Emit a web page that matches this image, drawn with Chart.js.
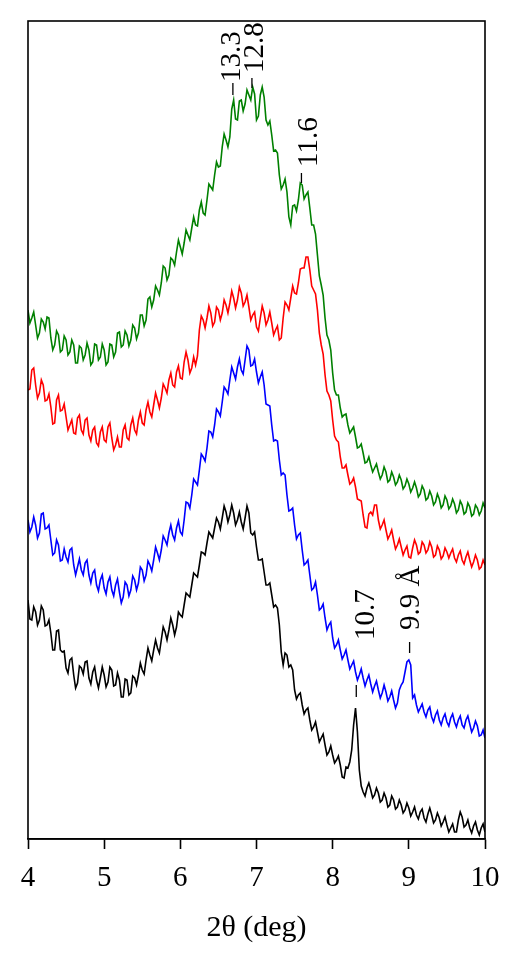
<!DOCTYPE html>
<html>
<head>
<meta charset="utf-8">
<script src="https://cdn.jsdelivr.net/npm/chart.js@4/dist/chart.umd.min.js"></script>
<style>
  html, body { margin: 0; padding: 0; background: #fff; }
  #xrd { display: block; }
</style>
</head>
<body>
<canvas id="xrd" width="527" height="969"></canvas>
<script>
// 2theta (deg), every 0.05 deg
const twoTheta = [
  4.00,4.05,4.10,4.15,4.20,4.25,4.30,4.35,4.40,4.45,
  4.50,4.55,4.60,4.65,4.70,4.75,4.80,4.85,4.90,4.95,
  5.00,5.05,5.10,5.15,5.20,5.25,5.30,5.35,5.40,5.45,
  5.50,5.55,5.60,5.65,5.70,5.75,5.80,5.85,5.90,5.95,
  6.00,6.05,6.10,6.15,6.20,6.25,6.30,6.35,6.40,6.45,
  6.50,6.55,6.60,6.65,6.70,6.75,6.80,6.85,6.90,6.95,
  7.00,7.05,7.10,7.15,7.20,7.25,7.30,7.35,7.40,7.45,
  7.50,7.55,7.60,7.65,7.70,7.75,7.80,7.85,7.90,7.95,
  8.00,8.05,8.10,8.15,8.20,8.25,8.30,8.35,8.40,8.45,
  8.50,8.55,8.60,8.65,8.70,8.75,8.80,8.85,8.90,8.95,
  9.00,9.05,9.10,9.15,9.20,9.25,9.30,9.35,9.40,9.45,
  9.50,9.55,9.60,9.65,9.70,9.75,9.80,9.85,9.90,9.95,
  10.00
];

// in-between readings (the noise between the 0.05 deg points)
const twoThetaMid = [
  4.025,4.075,4.125,4.175,4.225,4.275,4.325,4.375,4.425,4.475,
  4.525,4.575,4.625,4.675,4.725,4.775,4.825,4.875,4.925,4.975,
  5.025,5.075,5.125,5.175,5.225,5.275,5.325,5.375,5.425,5.475,
  5.525,5.575,5.625,5.675,5.725,5.775,5.825,5.875,5.925,5.975,
  6.025,6.075,6.125,6.175,6.225,6.275,6.325,6.375,6.425,6.475,
  6.525,6.575,6.625,6.675,6.725,6.775,6.825,6.875,6.925,6.975,
  7.025,7.075,7.125,7.175,7.225,7.275,7.325,7.375,7.425,7.475,
  7.525,7.575,7.625,7.675,7.725,7.775,7.825,7.875,7.925,7.975,
  8.025,8.075,8.125,8.175,8.225,8.275,8.325,8.375,8.425,8.475,
  8.525,8.575,8.625,8.675,8.725,8.775,8.825,8.875,8.925,8.975,
  9.025,9.075,9.125,9.175,9.225,9.275,9.325,9.375,9.425,9.475,
  9.525,9.575,9.625,9.675,9.725,9.775,9.825,9.875,9.925,9.975
];

// intensities (arbitrary units, curves already offset as in the figure)
const greenCounts = [
  690,682,675,667,678,683,662,655,665,650,
  660,648,655,637,652,645,650,638,655,643,
  650,638,655,648,668,655,665,660,672,667,
  685,680,703,700,710,717,732,725,740,748,
  753,757,765,772,775,790,787,800,813,825,
  833,853,860,863,900,880,900,896,905,913,
  880,905,903,875,865,850,825,815,808,775,
  795,800,815,805,792,775,745,715,682,660,
  627,605,592,585,575,570,563,553,547,538,
  535,532,528,525,528,520,523,518,520,514,
  516,512,512,506,510,502,504,498,501,495,
  500,494,496,490,495,488,493,486,492,489,
  492
];
const greenMid = [
  677,688,662,681,671,682,650,669,648,664,
  645,660,637,654,640,657,635,656,640,656,
  635,656,643,667,653,669,654,675,661,685,
  674,701,693,714,705,734,720,742,735,760,
  746,770,760,783,774,798,785,816,810,838,
  834,866,853,891,881,899,889,910,900,906,
  884,913,880,879,849,847,811,821,783,794,
  789,817,801,808,775,766,724,705,665,650,
  610,605,583,586,567,573,552,556,537,543,
  528,536,521,533,518,528,515,525,511,521,
  508,518,503,514,500,509,495,506,492,504,
  491,501,487,499,486,497,484,495,485,497
];

const redCounts = [
  610,630,615,607,615,600,593,577,605,590,
  583,575,567,582,570,580,565,570,557,568,
  560,573,562,555,553,570,562,575,570,580,
  577,590,588,595,600,602,612,620,615,628,
  622,638,640,632,635,670,680,682,687,678,
  690,687,695,697,702,700,707,698,693,685,
  673,682,687,680,677,670,660,682,695,702,
  707,717,732,743,730,710,690,655,625,605,
  580,560,543,532,525,518,513,500,485,472,
  488,495,480,475,470,465,460,455,453,450,
  443,452,455,448,455,450,453,445,450,444,
  448,447,442,445,440,443,440,438,440,433,
  435
];
const redMid = [
  611,632,602,620,599,606,576,600,589,596,
  570,580,566,585,566,582,559,573,554,573,
  558,577,550,563,553,575,560,582,566,588,
  575,598,583,607,592,616,607,627,613,634,
  621,648,627,643,644,684,672,694,674,693,
  680,700,687,709,692,713,694,705,680,688,
  669,694,675,688,665,674,662,698,690,714,
  706,731,732,743,714,706,667,646,609,599,
  564,558,532,535,516,522,501,499,473,486,
  485,495,471,480,461,470,451,461,445,454,
  442,460,446,458,447,458,443,454,441,452,
  442,451,438,449,436,448,433,445,431,440
];

const blueCounts = [
  480,473,475,467,487,472,460,447,455,440,
  443,450,435,433,430,437,425,427,415,420,
  412,418,410,415,408,403,415,410,420,417,
  430,425,435,440,447,450,460,467,465,472,
  468,480,497,505,518,530,543,552,568,575,
  588,598,610,620,627,633,630,640,650,635,
  628,623,615,595,575,560,540,527,505,490,
  475,465,450,437,425,412,405,392,382,375,
  362,355,350,345,340,335,328,325,322,320,
  316,314,310,307,308,303,300,297,315,328,
  340,302,295,292,288,290,283,285,280,282,
  278,282,278,280,275,280,276,272,274,265,
  262
];
const blueMid = [
  468,483,462,486,471,475,445,460,439,451,
  438,452,425,441,425,440,417,430,409,425,
  406,423,404,421,397,418,404,424,410,433,
  419,439,429,453,440,464,455,475,460,479,
  465,498,492,521,515,546,539,569,563,591,
  584,613,606,633,621,641,626,654,634,641,
  617,628,596,594,559,559,525,525,489,492,
  461,467,435,440,410,418,390,396,370,378,
  352,360,341,350,331,339,320,331,314,325,
  308,319,302,315,299,309,292,310,318,338,
  335,305,288,296,283,293,278,289,275,286,
  274,286,273,284,272,284,268,279,264,270
];

const blackCounts = [
  400,380,388,380,390,375,367,350,370,348,
  332,340,325,317,332,338,322,328,320,322,
  325,318,330,315,320,303,320,307,322,325,
  330,340,345,350,352,360,368,370,375,373,
  385,395,405,415,425,435,447,457,465,472,
  478,482,488,485,487,480,478,482,487,465,
  453,440,428,415,405,395,375,335,345,335,
  310,305,295,290,280,273,268,262,255,248,
  245,240,235,222,232,250,292,230,208,212,
  210,205,207,200,202,195,200,193,195,190,
  192,188,185,188,182,186,185,180,182,178,
  175,172,168,180,183,175,172,174,170,172,
  168
];
const blackMid = [
  381,393,375,394,374,380,350,369,350,349,
  327,342,312,334,326,339,316,333,312,333,
  313,333,314,327,303,321,305,324,315,337,
  326,352,339,360,347,373,360,382,365,388,
  383,407,403,427,423,448,445,468,462,482,
  471,494,478,495,475,488,471,494,467,468,
  440,441,415,417,393,392,348,347,333,330,
  301,307,286,292,270,278,258,266,245,254,
  237,244,223,233,238,275,268,214,204,217,
  202,212,198,207,193,204,191,200,187,197,
  184,193,181,191,178,192,177,187,174,183,
  168,176,168,188,173,180,167,178,165,176
];

// d-spacing labels and where they sit
const peakLabels = ['13.3', '12.8', '11.6', '10.7', '9.9 Å'];
const peakX      = [6.69, 6.94, 7.59, 8.31, 9.01];
const dashFrom   = [905, 912, 817, 303, 347];
const dashTo     = [917, 922, 827, 315, 358];
const labelX     = [6.68, 6.99, 7.69, 8.44, 9.03];
const labelY     = [918, 927, 833, 360, 370];

const serif = "'Liberation Serif', 'Times New Roman', serif";

function toPoints(ys, mids) {
  const pts = twoTheta.map((x, i) => ({ x: x, y: ys[i] }));
  twoThetaMid.forEach((x, i) => pts.push({ x: x, y: mids[i] }));
  return pts.sort((a, b) => a.x - b.x);
}

function lineSet(ys, mids, color) {
  return {
    data: toPoints(ys, mids),
    borderColor: color,
    borderWidth: 1.6,
    pointRadius: 0,
    tension: 0,
    fill: false
  };
}

// frame round the plot + peak markers
const framePlugin = {
  id: 'frame',
  afterDatasetsDraw(chart) {
    const { ctx, chartArea: a, scales: { x, y } } = chart;
    ctx.save();
    ctx.strokeStyle = '#000';
    ctx.lineWidth = 1.6;
    ctx.strokeRect(a.left, a.top, a.right - a.left, a.bottom - a.top);

    ctx.lineWidth = 1.3;
    for (let i = 0; i < peakLabels.length; i++) {
      const px = x.getPixelForValue(peakX[i]);
      ctx.beginPath();
      ctx.moveTo(px, y.getPixelForValue(dashFrom[i]));
      ctx.lineTo(px, y.getPixelForValue(dashTo[i]));
      ctx.stroke();

      ctx.save();
      ctx.translate(x.getPixelForValue(labelX[i]), y.getPixelForValue(labelY[i]));
      ctx.rotate(-Math.PI / 2);
      ctx.fillStyle = '#000';
      ctx.font = '29px ' + serif;
      ctx.textAlign = 'left';
      ctx.textBaseline = 'middle';
      ctx.fillText(peakLabels[i], 0, 0);
      ctx.restore();
    }
    ctx.restore();
  }
};

new Chart(document.getElementById('xrd'), {
  type: 'line',
  data: {
    datasets: [
      lineSet(greenCounts, greenMid, '#008000'),
      lineSet(redCounts, redMid, '#ff0000'),
      lineSet(blueCounts, blueMid, '#0000ff'),
      lineSet(blackCounts, blackMid, '#000000')
    ]
  },
  options: {
    responsive: false,
    animation: false,
    devicePixelRatio: 1,
    layout: { padding: { left: 28, right: 42, top: 21, bottom: 0 } },
    plugins: { legend: { display: false }, tooltip: { enabled: false } },
    scales: {
      x: {
        type: 'linear',
        min: 4,
        max: 10,
        afterFit(scale) { scale.height = 130; },
        border: { display: true, color: '#000', width: 1.6 },
        grid: {
          drawOnChartArea: false,
          drawTicks: true,
          tickLength: 10,
          tickColor: '#000',
          tickWidth: 1.6
        },
        ticks: {
          stepSize: 1,
          padding: 12,
          color: '#000',
          font: { family: serif, size: 29 }
        },
        title: {
          display: true,
          text: '2θ (deg)',
          color: '#000',
          font: { family: serif, size: 30 },
          padding: { top: 0, bottom: 23 }
        }
      },
      y: {
        display: false,
        min: 161,
        max: 979
      }
    }
  },
  plugins: [framePlugin]
});
</script>
</body>
</html>
